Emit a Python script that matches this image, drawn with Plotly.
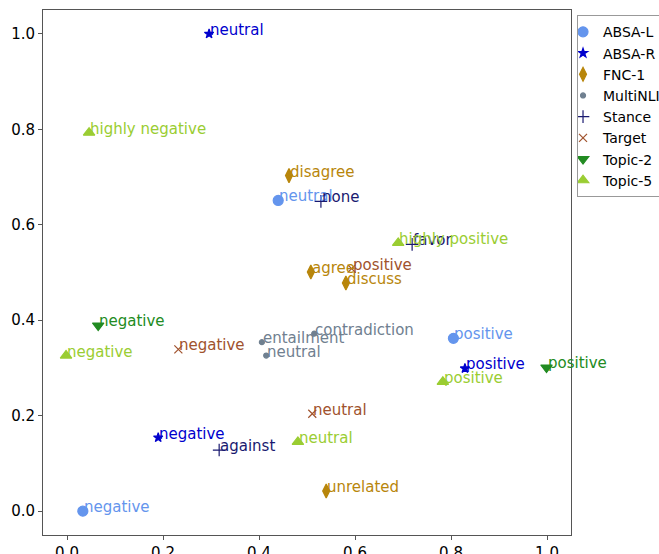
import plotly.graph_objects as go

# ---- data ----
absa_l_labels = ["negative", "neutral", "positive"]
absa_l_x = [0.033, 0.440, 0.805]
absa_l_y = [0.000, 0.651, 0.362]

absa_r_labels = ["negative", "neutral", "positive"]
absa_r_x = [0.190, 0.296, 0.829]
absa_r_y = [0.154, 1.000, 0.299]

fnc_labels = ["agree", "disagree", "discuss", "unrelated"]
fnc_x = [0.508, 0.4625, 0.581, 0.540]
fnc_y = [0.501, 0.703, 0.478, 0.042]

mnli_labels = ["contradiction", "entailment", "neutral"]
mnli_x = [0.515, 0.406, 0.415]
mnli_y = [0.372, 0.354, 0.326]

stance_labels = ["against", "favor", "none"]
stance_x = [0.317, 0.719, 0.529]
stance_y = [0.128, 0.559, 0.649]

target_labels = ["negative", "neutral", "positive"]
target_x = [0.232, 0.511, 0.593]
target_y = [0.339, 0.204, 0.508]

topic2_labels = ["negative", "positive"]
topic2_x = [0.065, 0.999]
topic2_y = [0.389, 0.301]

topic5_labels = ["highly negative", "negative", "neutral", "positive", "highly positive"]
topic5_x = [0.046, -0.002, 0.481, 0.783, 0.690]
topic5_y = [0.793, 0.326, 0.145, 0.271, 0.562]

datasets = [
    ("ABSA-L", absa_l_labels, absa_l_x, absa_l_y),
    ("ABSA-R", absa_r_labels, absa_r_x, absa_r_y),
    ("FNC-1", fnc_labels, fnc_x, fnc_y),
    ("MultiNLI", mnli_labels, mnli_x, mnli_y),
    ("Stance", stance_labels, stance_x, stance_y),
    ("Target", target_labels, target_x, target_y),
    ("Topic-2", topic2_labels, topic2_x, topic2_y),
    ("Topic-5", topic5_labels, topic5_x, topic5_y),
]

# ---- styles ----
styles = {
    "ABSA-L": dict(color="#6495ED", symbol="circle", size=10),
    "ABSA-R": dict(color="#0000CD", symbol="star", size=7),
    "FNC-1": dict(color="#B8860B", symbol="diamond-tall", size=10),
    "MultiNLI": dict(color="#708090", symbol="circle", size=5),
    "Stance": dict(color="#191970", symbol="cross-thin", size=9),
    "Target": dict(color="#A0522D", symbol="x-thin", size=8),
    "Topic-2": dict(color="#228B22", symbol="triangle-down", size=10),
    "Topic-5": dict(color="#9ACD32", symbol="triangle-up", size=10),
}

FONT = "DejaVu Sans"
fig = go.Figure()
annotations = []
for name, labels, xs, ys in datasets:
    st = styles[name]
    fig.add_trace(go.Scatter(
        x=xs, y=ys, mode="markers", name=name,
        marker=dict(color=st["color"], symbol=st["symbol"], size=st["size"],
                    line=dict(color=st["color"], width=1.2)),
    ))
    for lab, xv, yv in zip(labels, xs, ys):
        annotations.append(dict(
            x=xv, y=yv, text=lab, showarrow=False, xanchor="left", yanchor="bottom",
            xshift=-1, yshift=-7, font=dict(family=FONT, size=15, color=st["color"]),
        ))

axis_common = dict(
    showline=True, linecolor="#555555", linewidth=1, mirror=True,
    ticks="outside", ticklen=4, tickcolor="#555555", showgrid=False, zeroline=False,
    tickfont=dict(family=FONT, size=15, color="black"), automargin=False,
)
fig.update_layout(
    width=659, height=554,
    margin=dict(l=43, r=88, t=10, b=19, autoexpand=False),
    paper_bgcolor="white", plot_bgcolor="white",
    xaxis=dict(range=[-0.05, 1.05], tickvals=[0, 0.2, 0.4, 0.6, 0.8, 1.0],
               ticktext=["0.0", "0.2", "0.4", "0.6", "0.8", "1.0"], **axis_common),
    yaxis=dict(range=[-0.05, 1.05], tickvals=[0, 0.2, 0.4, 0.6, 0.8, 1.0],
               ticktext=["0.0", "0.2", "0.4", "0.6", "0.8", "1.0"], **axis_common),
    legend=dict(x=1.0114, y=0.99, xanchor="left", yanchor="top",
                bordercolor="#999999", borderwidth=1, indentation=-15,
                font=dict(family=FONT, size=14, color="black"),
                itemwidth=30, tracegroupgap=0),
    annotations=annotations,
    showlegend=True,
)
fig.write_html("out.html", config={"displayModeBar": False},
               post_script="document.body.style.margin='0';document.body.style.overflow='hidden';")
